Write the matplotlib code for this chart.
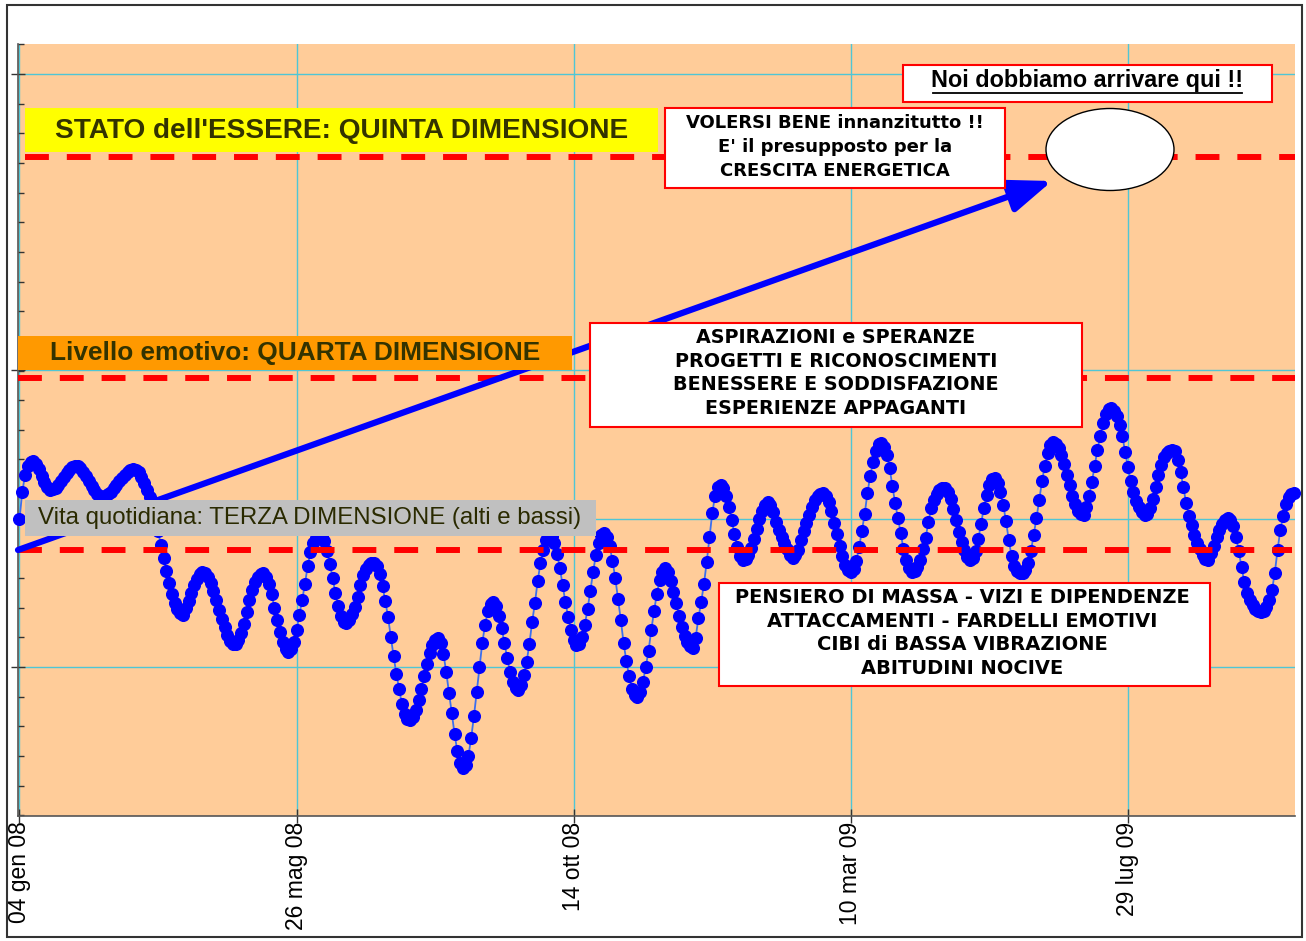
import numpy as np
import matplotlib.pyplot as plt
from matplotlib.patches import Rectangle, Ellipse
from matplotlib.lines import Line2D

plt.rcParams['font.family'] = ['Liberation Sans', 'DejaVu Sans']

# category axis: one label every 100 trading days
date_labels = ['04 gen 08', '26 mag 08', '14 ott 08', '10 mar 09', '29 lug 09']
label_index = [0, 100, 200, 300, 400]

# daily series
values = [
    29.7, 32.4, 34.1, 35.0, 35.4, 35.5, 35.2, 34.7, 34.0, 33.4, 32.9, 32.6, 32.7, 32.8, 33.1, 33.5, 33.9, 34.3, 34.6, 34.9,
    35.0, 35.0, 34.8, 34.4, 34.0, 33.5, 33.0, 32.6, 32.2, 32.0, 31.9, 32.0, 32.2, 32.4, 32.8, 33.1, 33.5, 33.8, 34.1, 34.4,
    34.6, 34.7, 34.6, 34.4, 33.9, 33.3, 32.6, 31.9, 31.0, 29.8, 28.5, 27.1, 25.8, 24.5, 23.3, 22.2, 21.3, 20.7, 20.3, 20.1,
    20.8, 21.5, 22.3, 23.1, 23.7, 24.2, 24.4, 24.3, 23.9, 23.3, 22.5, 21.6, 20.6, 19.7, 18.9, 18.1, 17.5, 17.2, 17.2, 17.6,
    18.3, 19.2, 20.4, 21.6, 22.6, 23.4, 23.9, 24.2, 24.3, 23.9, 23.2, 22.2, 20.8, 19.6, 18.4, 17.4, 16.7, 16.4, 16.7, 17.4,
    18.6, 20.1, 21.6, 23.2, 25.0, 26.4, 27.3, 27.8, 28.0, 28.0, 27.5, 26.5, 25.2, 23.8, 22.3, 21.0, 20.0, 19.4, 19.3, 19.6,
    20.2, 20.9, 21.9, 23.1, 24.1, 24.7, 25.1, 25.3, 25.3, 25.0, 24.2, 23.0, 21.5, 19.9, 17.9, 16.0, 14.2, 12.7, 11.2, 10.2,
    9.7, 9.6, 9.9, 10.6, 11.6, 12.7, 14.0, 15.2, 16.3, 17.1, 17.6, 17.8, 17.3, 16.2, 14.4, 12.3, 10.3, 8.2, 6.5, 5.3,
    4.8, 5.1, 6.0, 7.8, 10.0, 12.4, 14.9, 17.3, 19.1, 20.5, 21.2, 21.4, 21.0, 20.0, 18.8, 17.3, 15.8, 14.4, 13.4, 12.8,
    12.6, 13.1, 14.1, 15.4, 17.2, 19.4, 21.3, 23.5, 25.3, 26.6, 27.6, 28.1, 28.0, 27.3, 26.2, 24.8, 23.1, 21.4, 19.9, 18.6,
    17.6, 17.1, 17.2, 17.9, 19.1, 20.7, 22.5, 24.4, 26.1, 27.3, 28.1, 28.3, 27.9, 27.0, 25.5, 23.8, 21.7, 19.6, 17.3, 15.5,
    14.0, 12.7, 12.1, 11.9, 12.4, 13.4, 14.9, 16.5, 18.6, 20.5, 22.2, 23.6, 24.4, 24.8, 24.4, 23.5, 22.4, 21.3, 20.0, 18.9,
    18.0, 17.4, 17.0, 16.8, 17.8, 19.8, 21.4, 23.2, 25.4, 27.9, 30.3, 32.0, 32.9, 33.1, 32.8, 32.0, 30.9, 29.6, 28.2, 26.9,
    26.0, 25.6, 25.7, 26.1, 26.8, 27.7, 28.7, 29.7, 30.5, 31.1, 31.4, 31.1, 30.4, 29.4, 28.6, 27.9, 27.3, 26.7, 26.1, 25.8,
    26.1, 26.6, 27.6, 28.5, 29.3, 30.1, 30.9, 31.6, 32.0, 32.2, 32.3, 32.0, 31.4, 30.5, 29.3, 28.2, 27.0, 26.0, 25.1, 24.6,
    24.4, 24.7, 25.5, 26.9, 28.5, 30.2, 32.3, 34.0, 35.4, 36.5, 37.2, 37.3, 36.9, 36.1, 34.8, 33.0, 31.3, 29.8, 28.3, 26.7,
    25.6, 24.8, 24.4, 24.5, 24.9, 25.6, 26.7, 27.8, 29.4, 30.8, 31.6, 32.2, 32.6, 32.8, 32.8, 32.4, 31.7, 30.7, 29.6, 28.4,
    27.4, 26.6, 25.9, 25.6, 25.8, 26.5, 27.7, 29.2, 30.8, 32.1, 33.1, 33.7, 33.8, 33.3, 32.4, 31.1, 29.5, 27.6, 26.0, 25.0,
    24.5, 24.3, 24.3, 24.6, 25.3, 26.5, 28.1, 29.8, 31.6, 33.5, 35.0, 36.3, 37.1, 37.4, 37.2, 36.8, 36.1, 35.2, 34.1, 33.1,
    32.0, 31.2, 30.5, 30.2, 30.1, 30.9, 32.0, 33.4, 35.0, 36.6, 38.0, 39.3, 40.2, 40.7, 40.8, 40.5, 40.0, 39.1, 38.0, 36.4,
    34.9, 33.5, 32.4, 31.5, 30.9, 30.4, 30.1, 30.2, 30.8, 31.7, 32.9, 34.1, 35.1, 35.9, 36.3, 36.5, 36.6, 36.5, 35.6, 34.4,
    32.9, 31.3, 30.0, 29.1, 28.1, 27.3, 26.7, 26.1, 25.7, 25.6, 26.3, 27.0, 27.9, 28.6, 29.2, 29.6, 29.8, 29.6, 29.0, 27.9,
    26.5, 24.9, 23.4, 22.3, 21.6, 21.1, 20.7, 20.5, 20.4, 20.5, 20.9, 21.6, 22.6, 24.3, 26.6, 28.6, 30.0, 31.2, 31.9, 32.2,
    32.3,
]

# the three "dimension" levels (dashed red lines)
level_quinta = 65.9
level_quarta = 43.8
level_terza = 26.6

W, H = 1306, 941
fig = plt.figure(figsize=(W / 100, H / 100), dpi=100)
ax = fig.add_axes([18 / W, 1 - 816 / H, 1277 / W, 772 / H])
ax.set_facecolor('#FFCC99')

x = np.arange(len(values))
ax.plot(x, values, '-', color='#3A6EF0', lw=1.3, marker='o', ms=8.4,
        mfc='#0000FF', mec='#0000FF', clip_on=False, zorder=3)

ax.set_xlim(-0.54, 460.3)
ax.set_ylim(0, 77.2)

ax.set_xticks(label_index)
ax.set_xticklabels(date_labels, rotation=90, fontsize=16.5, va='top', ha='center')
ax.set_yticks([14.9, 44.6, 74.2])
ax.set_yticklabels([])
ax.set_yticks(np.arange(0.075, 77.2, 2.965), minor=True)
ax.tick_params(axis='x', direction='inout', length=10, width=1, color='#333333', pad=-1)
ax.tick_params(axis='y', which='major', direction='inout', length=10, width=1, color='#333333')
ax.tick_params(axis='y', which='minor', direction='in', length=4, width=1, color='#333333')
ax.grid(True, color='#4FC6D6', lw=1, zorder=1)
ax.axhline(29.7, color='#4FC6D6', lw=1, zorder=1)
ax.set_axisbelow(True)
for s in ['top', 'right']:
    ax.spines[s].set_visible(False)
for s in ['left', 'bottom']:
    ax.spines[s].set_color('#555555')
    ax.spines[s].set_linewidth(1.2)


def P(px, py):
    # position in the picture -> axes fraction
    return (px - 18) / 1277, (816 - py) / 772


def box(x0, y0, x1, y1, face, edge=None, lw=0, z=6):
    a0, b1 = P(x0, y0)
    a1, b0 = P(x1, y1)
    ax.add_patch(Rectangle((a0, b0), a1 - a0, b1 - b0, transform=ax.transAxes,
                           facecolor=face, edgecolor=edge if edge else face,
                           lw=lw, zorder=z, clip_on=False))


def label(px, py, s, size, weight='bold', color='black', ha='center', ls=1.2, family=None):
    ax.text(*P(px, py), s, transform=ax.transAxes, fontsize=size, fontweight=weight,
            color=color, ha=ha, va='center', multialignment='center',
            linespacing=ls, zorder=8, family=family)


# dashed levels
dash = dict(color='#FF0000', lw=4.3, linestyle=(0, (4, 3)), zorder=4)
ax.axhline(level_quinta, xmin=P(25, 0)[0], xmax=1, **dash)
ax.axhline(level_quarta, xmin=0, xmax=1, **dash)
ax.axhline(level_terza, xmin=0, xmax=P(1292, 0)[0], **dash)

# arrow
ax.annotate('', xy=P(1052, 181), xytext=P(18, 550), xycoords='axes fraction',
            arrowprops=dict(arrowstyle='-|>,head_length=2.6,head_width=1.0',
                            lw=4.5, color='#0000FF', shrinkA=0, shrinkB=0),
            zorder=5, annotation_clip=False)

# ellipse target
ax.add_patch(Ellipse(P(1110, 149.5), 128 / 1277, 82 / 772, transform=ax.transAxes,
                     facecolor='white', edgecolor='black', lw=1, zorder=6))

dark = '#333300'
box(25, 108, 658, 152, '#FFFF00')
label(55, 131, "STATO dell'ESSERE: QUINTA DIMENSIONE", 20.2, color=dark, ha='left')
box(18, 336, 572, 370, '#FF9900')
label(50, 353, 'Livello emotivo: QUARTA DIMENSIONE', 18.9, color=dark, ha='left')
box(25, 500, 596, 536, '#C0C0C0')
label(38, 518, 'Vita quotidiana: TERZA DIMENSIONE (alti e bassi)', 17.3, weight='normal',
      color='#2A2A00', ha='left')

wide = ['DejaVu Sans']
box(665, 108, 1005, 188, 'white', '#FF0000', 1.5)
label(835, 147, "VOLERSI BENE innanzitutto !!\nE' il presupposto per la\nCRESCITA ENERGETICA",
      13, ls=1.4, family=wide)

box(903, 65, 1272, 102, 'white', '#FF0000', 1.5)
label(1087, 81, 'Noi dobbiamo arrivare qui !!', 16.8)
u0, uy = P(933, 93)
u1, _ = P(1242, 93)
ax.add_line(Line2D([u0, u1], [uy, uy], transform=ax.transAxes, color='black', lw=1.3,
                   zorder=8, clip_on=False))

box(590, 323, 1082, 427, 'white', '#FF0000', 1.5)
label(836, 373, 'ASPIRAZIONI e SPERANZE\nPROGETTI E RICONOSCIMENTI\n'
      'BENESSERE E SODDISFAZIONE\nESPERIENZE APPAGANTI', 13.8, ls=1.3, family=wide)

box(719, 583, 1210, 686, 'white', '#FF0000', 1.5)
label(962, 633, 'PENSIERO DI MASSA - VIZI E DIPENDENZE\nATTACCAMENTI - FARDELLI EMOTIVI\n'
      'CIBI di BASSA VIBRAZIONE\nABITUDINI NOCIVE', 14, ls=1.3, family=wide)

# outer chart frame
fig.add_artist(Rectangle((7 / W, 1 - 937 / H), 1295 / W, 932 / H, transform=fig.transFigure,
                         fill=False, edgecolor='#333333', lw=1.5))

fig.savefig('out.png', dpi=100)
